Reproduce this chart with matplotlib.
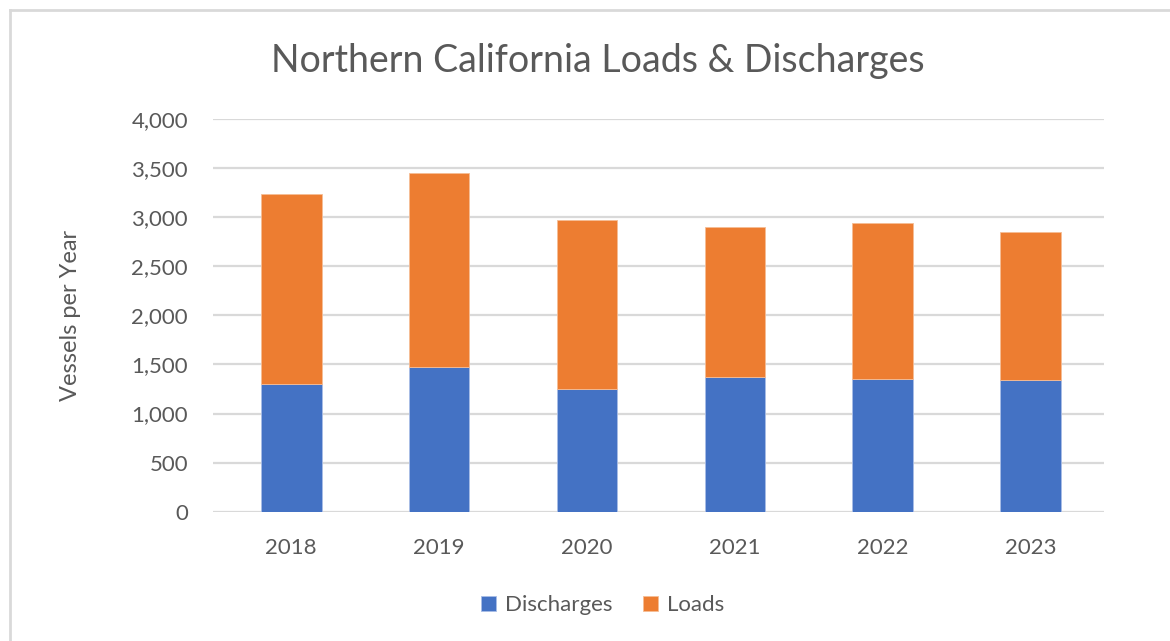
import matplotlib
matplotlib.use('Agg')
import matplotlib.pyplot as plt
from matplotlib.lines import Line2D
from matplotlib.ticker import FuncFormatter, MultipleLocator
import numpy as np

years = ['2018', '2019', '2020', '2021', '2022', '2023']
discharges = [1303, 1473, 1246, 1372, 1355, 1344]
loads = [1929, 1976, 1728, 1527, 1588, 1501]

BLUE = '#4472c4'
ORANGE = '#ed7d31'
TEXT = '#595959'
GRID = '#d9d9d9'

plt.rcParams['font.family'] = ['Lato', 'DejaVu Sans']

fig = plt.figure(figsize=(11.7, 6.41), dpi=100)
ax = fig.add_axes([0.182, 0.2017, 0.762, 0.6127])

x = np.arange(len(years))
ax.bar(x, discharges, width=0.41, color=BLUE, label='Discharges', zorder=3,
       edgecolor='#a9bde6', linewidth=0.6)
ax.bar(x, loads, width=0.41, bottom=discharges, color=ORANGE, label='Loads', zorder=3,
       edgecolor='#f6bd95', linewidth=0.6)

ax.set_xlim(-0.53, len(years) - 0.5)
ax.set_ylim(0, 4000)
ax.yaxis.set_major_locator(MultipleLocator(500))
ax.yaxis.set_major_formatter(FuncFormatter(lambda v, p: f'{v:,.0f}'))
ax.set_xticks(x)
ax.set_xticklabels(years)
ax.grid(axis='y', color=GRID, linewidth=1.6, zorder=0)
for s in ax.spines.values():
    s.set_visible(False)
ax.tick_params(axis='both', length=0, labelsize=16, colors=TEXT)
ax.tick_params(axis='y', pad=18)
ax.tick_params(axis='x', pad=19)
ax.set_ylabel('Vessels per Year', fontsize=17, color=TEXT, labelpad=36)

fig.text(0.511, 0.905, 'Northern California Loads & Discharges', fontsize=27,
         color=TEXT, ha='center', va='center')

fig.legend(loc='center', bbox_to_anchor=(0.515, 0.056), ncol=2, frameon=False,
           fontsize=16, labelcolor=TEXT, handlelength=0.65, handleheight=0.65,
           handletextpad=0.4, columnspacing=1.4)

# chart frame (top and left edges visible in the crop)
fig.add_artist(Line2D([10 / 1170, 1], [1 - 10 / 641] * 2, color=GRID, linewidth=2))
fig.add_artist(Line2D([10 / 1170] * 2, [0, 1 - 10 / 641], color=GRID, linewidth=2))

fig.savefig('out.png', dpi=100, facecolor='white')
